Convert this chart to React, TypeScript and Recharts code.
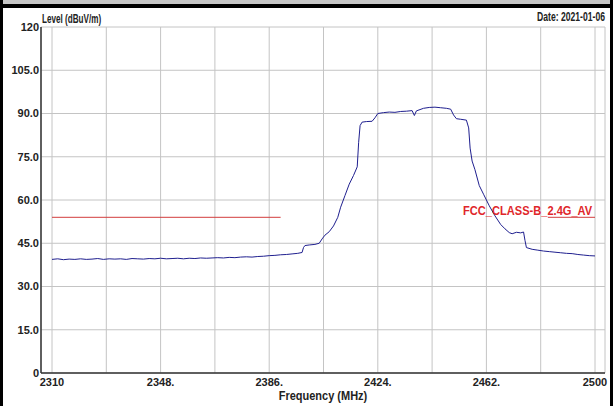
import React from "react";
import { LineChart, Line, XAxis, YAxis, CartesianGrid } from "recharts";

const freqs: number[] = [
  2310, 2312, 2314, 2316, 2318, 2320, 2322, 2324, 2326, 2328, 2330, 2332, 2334, 2336, 2338, 2340,
  2342, 2344, 2346, 2348, 2350, 2352, 2354, 2356, 2358, 2360, 2362, 2364, 2366, 2368, 2370, 2372,
  2374, 2376, 2378, 2380, 2382, 2384, 2386, 2388, 2390, 2392, 2394, 2396, 2397.5, 2398, 2398.5,
  2400, 2402, 2403.5, 2404.5, 2405.5, 2407, 2408.5, 2410, 2411, 2412.5, 2414, 2415.5, 2416.8,
  2417.3, 2417.8, 2418.5, 2420, 2422, 2423, 2424, 2426, 2428, 2430, 2432, 2434, 2436, 2436.8,
  2437.5, 2440, 2442, 2444, 2446, 2448, 2449.5, 2450.5, 2451.5, 2453, 2455, 2455.8, 2456.3, 2457,
  2458, 2459.5, 2461, 2463, 2465, 2467, 2468.5, 2470, 2471, 2472.5, 2474, 2475, 2475.5, 2476,
  2478, 2480, 2482, 2484, 2486, 2488, 2490, 2492, 2494, 2496, 2498, 2500,
];

const levels: number[] = [
  39.4, 39.6, 39.3, 39.5, 39.4, 39.6, 39.4, 39.5, 39.7, 39.4, 39.6, 39.5, 39.6, 39.4, 39.7, 39.6,
  39.5, 39.7, 39.6, 39.8, 39.6, 39.7, 39.8, 39.6, 39.8, 39.7, 39.9, 39.8, 39.9, 40.0, 39.9, 40.1,
  40.0, 40.2, 40.3, 40.2, 40.4, 40.5, 40.7, 40.8, 41.0, 41.1, 41.3, 41.5, 41.8, 43.5, 44.2,
  44.4, 44.6, 45.0, 46.5, 47.8, 49.0, 51.0, 54.0, 57.5, 61.5, 65.5, 68.5, 71.5,
  80.0, 85.8, 87.0, 87.2, 87.3, 88.5, 90.0, 90.3, 90.5, 90.4, 90.7, 90.8, 91.0, 89.3,
  90.9, 91.8, 92.1, 92.2, 92.0, 91.8, 91.5, 89.5, 88.2, 88.0, 87.7, 85.0, 78.0, 73.5,
  70.5, 65.0, 62.0, 58.0, 54.5, 51.5, 50.0, 48.7, 48.3, 48.8, 48.6, 48.9, 46.0, 43.5,
  42.9, 42.6, 42.3, 42.1, 41.9, 41.7, 41.5, 41.4, 41.1, 40.9, 40.7, 40.6,
];

const limitFreqs: number[] = [2310, 2390, 2436, 2483.5, 2500];
const limitLevels: (number | null)[] = [54, 54, null, 54, 54];

const xTicks: number[] = [2310, 2329, 2348, 2367, 2386, 2405, 2424, 2443, 2462, 2481, 2500];
const xTickLabels: Record<number, string> = {
  2310: "2310",
  2348: "2348.",
  2386: "2386.",
  2424: "2424.",
  2462: "2462.",
  2500: "2500",
};
const yTicks: number[] = [0, 15, 30, 45, 60, 75, 90, 105, 120];

const yTitle = "Level (dBuV/m)";
const xTitle = "Frequency (MHz)";
const dateText = "Date: 2021-01-06";
const limitName = "FCC_CLASS-B_2.4G_AV";

const traceData = freqs.map((f, i) => ({ freq: f, level: levels[i] }));
const limitData = limitFreqs.map((f, i) => ({ freq: f, limit: limitLevels[i] }));

const FONT = "'Liberation Sans', Arial, sans-serif";

export default function App() {
  return (
    <div
      style={{
        position: "fixed",
        left: 0,
        top: 0,
        width: 613,
        height: 406,
        background: "#ffffff",
        overflow: "hidden",
        fontFamily: FONT,
      }}
    >
      <LineChart
        width={613}
        height={406}
        data={traceData}
        margin={{ top: 27, right: 8, bottom: 0, left: 0 }}
      >
        <CartesianGrid stroke="#c4c4c4" strokeWidth={1} />
        <XAxis
          dataKey="freq"
          type="number"
          domain={[2310, 2500]}
          ticks={xTicks}
          interval={0}
          padding={{ left: 11, right: 10 }}
          height={33}
          tickLine={false}
          tickSize={4}
          tickMargin={1}
          axisLine={{ stroke: "#333", strokeWidth: 1.5 }}
          tickFormatter={(v: number) => xTickLabels[v] ?? ""}
          tick={{ fill: "#222", fontSize: 11, fontWeight: 700, fontFamily: FONT }}
          allowDataOverflow
        />
        <XAxis
          xAxisId="top"
          orientation="top"
          type="number"
          domain={[2310, 2500]}
          height={0}
          tick={false}
          tickLine={false}
          axisLine={{ stroke: "#222", strokeWidth: 1.5 }}
        />
        <YAxis
          type="number"
          domain={[0, 120]}
          ticks={yTicks}
          interval={0}
          width={41}
          tickLine={false}
          tickSize={0}
          tickMargin={2}
          axisLine={{ stroke: "#333", strokeWidth: 1.5 }}
          tickFormatter={(v: number) => (v === 0 || v === 120 ? String(v) : v.toFixed(1))}
          tick={{ fill: "#222", fontSize: 11, fontWeight: 700, fontFamily: FONT }}
        />
        <YAxis
          yAxisId="right"
          orientation="right"
          type="number"
          domain={[0, 120]}
          width={0}
          tick={false}
          tickLine={false}
          axisLine={{ stroke: "#111", strokeWidth: 1.5 }}
        />
        <Line
          data={limitData}
          dataKey="limit"
          stroke="#d23c3c"
          strokeWidth={1}
          dot={false}
          connectNulls={false}
          isAnimationActive={false}
        />
        <Line
          dataKey="level"
          stroke="#1f1f8f"
          strokeWidth={1}
          dot={false}
          isAnimationActive={false}
        />
      </LineChart>
      <svg
        width={613}
        height={406}
        style={{ position: "absolute", left: 0, top: 0, pointerEvents: "none" }}
      >
        <text
          transform="translate(42 23) scale(0.65 1)"
          fontSize={12.5}
          fontWeight={700}
          fill="#222"
          fontFamily={FONT}
        >
          {yTitle}
        </text>
        <text
          transform="translate(605 21) scale(0.69 1)"
          textAnchor="end"
          fontSize={12.5}
          fontWeight={700}
          fill="#222"
          fontFamily={FONT}
        >
          {dateText}
        </text>
        <text
          transform="translate(323 400) scale(0.88 1)"
          textAnchor="middle"
          fontSize={12.5}
          fontWeight={700}
          fill="#222"
          fontFamily={FONT}
        >
          {xTitle}
        </text>
        <text
          transform="translate(463 215) scale(0.925 1)"
          fontSize={12}
          fontWeight={700}
          fill="#e0262a"
          fontFamily={FONT}
        >
          {limitName}
        </text>
      </svg>
      <div style={{ position: "absolute", left: 0, top: 0, width: 613, height: 4, background: "#c6c6c6" }} />
      <div style={{ position: "absolute", left: 0, top: 4, width: 613, height: 4, background: "#000" }} />
      <div style={{ position: "absolute", left: 0, top: 0, width: 3, height: 406, background: "#000" }} />
      <div style={{ position: "absolute", left: 610, top: 0, width: 3, height: 406, background: "#000" }} />
    </div>
  );
}
